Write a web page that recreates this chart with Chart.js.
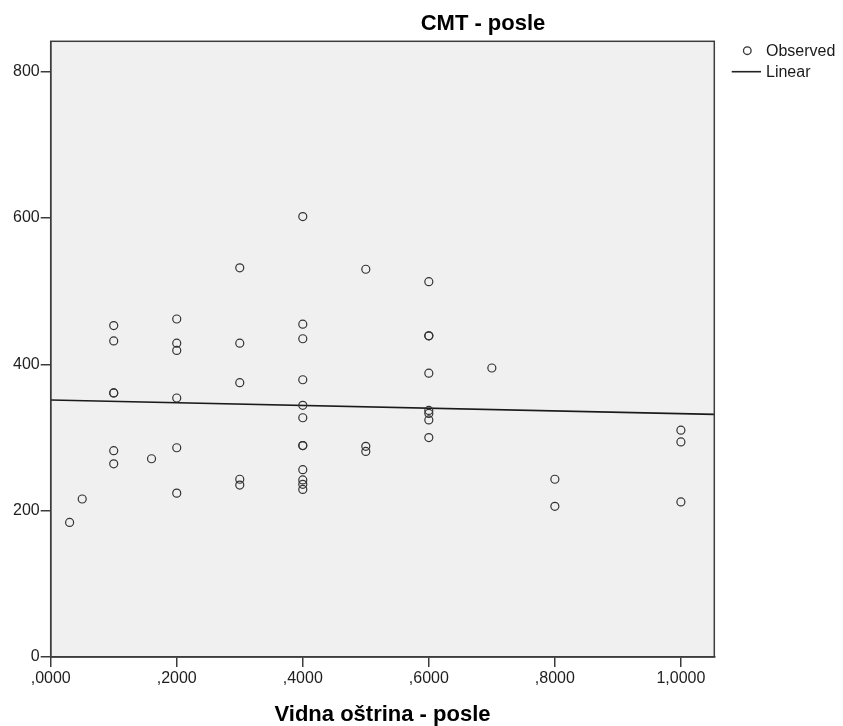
<!DOCTYPE html>
<html>
<head>
<meta charset="utf-8">
<script src="https://cdn.jsdelivr.net/npm/chart.js@4/dist/chart.umd.min.js"></script>
<style>
  html, body { margin: 0; padding: 0; background: #ffffff; }
  #wrap { width: 843px; height: 726px; position: relative; }
</style>
</head>
<body>
<div id="wrap"><canvas id="c" width="843" height="726"></canvas></div>
<script>
// ---- Data ----
const chartTitle = "CMT - posle";
const xAxisTitle = "Vidna oštrina - posle";
const legendLabels = ["Observed", "Linear"];

// Observed points: x = visual acuity, y = CMT
const obsX = [
  0.03, 0.05,
  0.1, 0.1, 0.1, 0.1, 0.1, 0.1,
  0.16,
  0.2, 0.2, 0.2, 0.2, 0.2, 0.2,
  0.3, 0.3, 0.3, 0.3, 0.3,
  0.4, 0.4, 0.4, 0.4, 0.4, 0.4, 0.4, 0.4, 0.4, 0.4, 0.4, 0.4,
  0.5, 0.5, 0.5,
  0.6, 0.6, 0.6, 0.6, 0.6, 0.6, 0.6, 0.6,
  0.7,
  0.8, 0.8,
  1.0, 1.0, 1.0
];
const obsY = [
  184, 216,
  453, 432, 361, 361, 282, 264,
  271,
  462, 429, 419, 354, 286, 224,
  532, 429, 375, 243, 235,
  602, 455, 435, 379, 344, 327, 289, 289, 256, 242, 236, 229,
  530, 288, 281,
  513, 439, 439, 388, 337, 333, 324, 300,
  395,
  243, 206,
  310, 294, 212
];

// Linear fit line end points
const fitX = [0, 1.053];
const fitY = [351.3, 331.7];

// Axes
const xTicks = [0, 0.2, 0.4, 0.6, 0.8, 1.0];
const yTicks = [0, 200, 400, 600, 800];
const xRange = [0, 1.053];
const yRange = [0, 841.6];

// ---- Chart ----
const FONT = "'Liberation Sans', Arial, Helvetica, sans-serif";

const obsData = obsX.map((x, i) => ({ x: x, y: obsY[i] }));
const fitData = fitX.map((x, i) => ({ x: x, y: fitY[i] }));

function fmtX(v) {
  const s = v.toFixed(4).replace('.', ',');
  return s.startsWith('0,') ? s.slice(1) : s;
}

const framePlugin = {
  id: 'frame',
  beforeDraw(chart) {
    const { ctx, chartArea: a } = chart;
    ctx.save();
    ctx.fillStyle = '#f0f0f0';
    ctx.fillRect(a.left, a.top, a.right - a.left, a.bottom - a.top);
    ctx.restore();
  },
  afterDraw(chart) {
    const { ctx, chartArea: a } = chart;
    ctx.save();
    ctx.strokeStyle = '#3c3c3c';
    ctx.lineWidth = 1.5;
    ctx.strokeRect(a.left, a.top, a.right - a.left, a.bottom - a.top);

    // Title
    ctx.fillStyle = '#000000';
    ctx.font = "bold 22px " + FONT;
    ctx.textAlign = 'center';
    ctx.textBaseline = 'alphabetic';
    ctx.fillText(chartTitle, 483, 30);

    // Legend
    ctx.font = "16px " + FONT;
    ctx.textAlign = 'left';
    ctx.textBaseline = 'middle';
    ctx.fillStyle = '#1a1a1a';
    ctx.strokeStyle = '#333333';
    ctx.lineWidth = 1.3;
    ctx.beginPath();
    ctx.arc(747.3, 50.7, 3.8, 0, Math.PI * 2);
    ctx.stroke();
    ctx.fillText(legendLabels[0], 766, 52);
    ctx.strokeStyle = '#222222';
    ctx.lineWidth = 1.6;
    ctx.beginPath();
    ctx.moveTo(731.7, 71.7);
    ctx.lineTo(761, 71.7);
    ctx.stroke();
    ctx.fillText(legendLabels[1], 766, 73);
    ctx.restore();
  }
};

new Chart(document.getElementById('c'), {
  type: 'scatter',
  data: {
    datasets: [
      {
        label: legendLabels[1],
        type: 'line',
        data: fitData,
        borderColor: '#1a1a1a',
        borderWidth: 1.6,
        pointRadius: 0,
        fill: false,
        tension: 0,
        order: 2
      },
      {
        label: legendLabels[0],
        data: obsData,
        pointRadius: 4,
        pointHoverRadius: 4,
        pointStyle: 'circle',
        borderColor: '#333333',
        borderWidth: 1.2,
        backgroundColor: 'rgba(0,0,0,0)',
        order: 1
      }
    ]
  },
  options: {
    responsive: false,
    animation: false,
    devicePixelRatio: 1,
    layout: { padding: { left: 0, top: 41.3, right: 128.7, bottom: 0 } },
    plugins: {
      legend: { display: false },
      title: { display: false },
      tooltip: { enabled: false }
    },
    scales: {
      x: {
        type: 'linear',
        min: xRange[0],
        max: xRange[1],
        afterBuildTicks: s => { s.ticks = xTicks.map(v => ({ value: v })); },
        afterFit: s => { s.height = 69; },
        grid: {
          drawOnChartArea: false,
          drawTicks: true,
          tickLength: 10,
          color: '#3c3c3c',
          lineWidth: 1.5
        },
        border: { display: true, color: '#3c3c3c', width: 1.5 },
        ticks: {
          color: '#1e1e1e',
          font: { family: FONT, size: 16 },
          padding: 2,
          maxRotation: 0,
          autoSkip: false,
          callback: v => fmtX(v)
        },
        title: {
          display: true,
          text: xAxisTitle,
          color: '#000000',
          font: { family: FONT, size: 22, weight: 'bold', lineHeight: 1.05 },
          padding: { top: 0, bottom: 0 }
        }
      },
      y: {
        type: 'linear',
        min: yRange[0],
        max: yRange[1],
        afterBuildTicks: s => { s.ticks = yTicks.map(v => ({ value: v })); },
        afterFit: s => { s.width = 50.7; },
        grid: {
          drawOnChartArea: false,
          drawTicks: true,
          tickLength: 10,
          color: '#3c3c3c',
          lineWidth: 1.5
        },
        border: { display: true, color: '#3c3c3c', width: 1.5 },
        ticks: {
          color: '#1e1e1e',
          font: { family: FONT, size: 16 },
          padding: 1,
          autoSkip: false,
          callback: v => String(v)
        }
      }
    }
  },
  plugins: [framePlugin]
});
</script>
</body>
</html>
